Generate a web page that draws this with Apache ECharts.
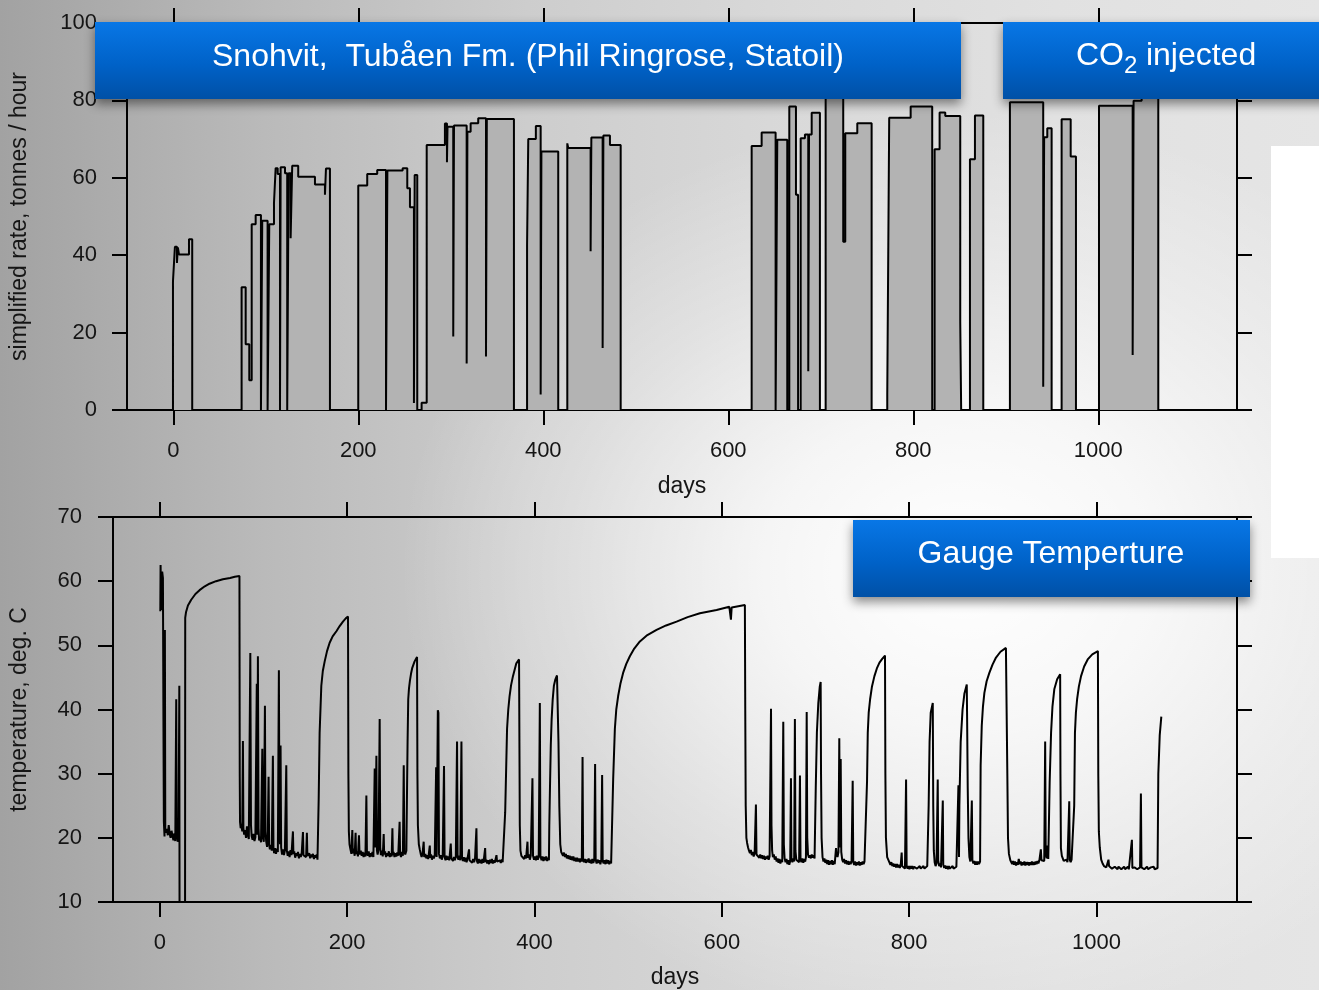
<!DOCTYPE html>
<html>
<head>
<meta charset="utf-8">
<title>Snohvit CO2 injection</title>
<script src="https://cdn.jsdelivr.net/npm/echarts@6/dist/echarts.min.js"></script>
<style>
  html, body { margin: 0; padding: 0; }
  body {
    width: 1319px; height: 990px; overflow: hidden;
    background:
      radial-gradient(ellipse 560px 460px at 960px 570px, rgba(255,255,255,1) 0%, rgba(255,255,255,0.75) 35%, rgba(255,255,255,0.3) 70%, rgba(255,255,255,0) 100%),
      linear-gradient(to right, #a2a2a2 0%, #bababa 20%, #cdcdcd 40%, #d9d9d9 60%, #e1e1e1 80%, #e5e5e5 100%);
  }
  #chart { width: 1319px; height: 990px; }
</style>
</head>
<body>
<div id="chart"></div>
<script>
// Tick values shared by both panels
const dayTicks = [0, 200, 400, 600, 800, 1000];
const rateTicks = [0, 20, 40, 60, 80, 100];
const tempTicks = [10, 20, 30, 40, 50, 60, 70];

// Simplified injection rate (tonnes/hour): [day, rate], each value held until the next day listed
const rateSteps = [
  [-50, 0],
  [-0.3, 33.2], [1.8, 42.2], [4, 38], [5, 42], [6.2, 40.2], [17, 44.1], [20.5, 0],
  [73.9, 31.7], [78.3, 17], [82.2, 7.7], [84.8, 48], [89.1, 50.4], [94.8, 0], [96.2, 48.9], [102, 0],
  [103.8, 48], [108.9, 53.5], [110.7, 62.5], [112.9, 61], [115.4, 0], [116.1, 62.7], [120.8, 61.2],
  [123.2, 0], [124.7, 61.2], [126.9, 44.4], [128.6, 63.1], [135.1, 60.3], [153.2, 58.3], [164, 55.6],
  [165.1, 62.4], [169.4, 0],
  [200, 58], [209.7, 61], [220.5, 62], [230, 0], [231.5, 61.9], [248, 62.5], [253, 57.3], [255.9, 52.4],
  [260.2, 1.8], [261, 60.7], [263.8, 0], [268.5, 1.9], [274, 68.5], [293.7, 74], [295.9, 64], [296.5, 73.2],
  [302.7, 19], [303.5, 73.5], [317.2, 12], [318, 71.9], [321.5, 74.1], [329.7, 75.4], [338.1, 13.8],
  [339, 75.2], [368.3, 0],
  [382.5, 42.6], [383.8, 70], [392, 73.4], [397.2, 4], [398, 66.8], [416.2, 0], [426, 68.9], [427, 67.7],
  [451.2, 41], [452, 70.4], [464.2, 16], [465, 70.9], [472.1, 68.5], [483.7, 0],
  [625.3, 68.2], [636.1, 71.7], [651.2, 0], [653, 69.8], [663.8, 0], [666, 78.4], [673.2, 55.6], [675.5, 0],
  [678.3, 70.2], [682.9, 71.2], [686.5, 10], [687.3, 71.2], [690.2, 76.8], [699.1, 0], [705.3, 85],
  [724.3, 43.5], [726.5, 71.5], [739.5, 74.1], [755, 0], [771.9, 3.9], [774, 75.5], [797.2, 78.4],
  [820.5, 0], [823.1, 67.4], [828.5, 76.9], [834.6, 76], [850.8, 22.8], [851.8, 0], [861.3, 64.8],
  [866.7, 76.1], [875.7, 0], [904.5, 79.5], [940.5, 6], [941.5, 70.5], [944.9, 72.8], [949.6, 0],
  [960.4, 75.1], [970.2, 65.5], [975.9, 0], [1000.8, 78.6], [1037.2, 14.2], [1038.2, 79.9], [1046.9, 84],
  [1064.9, 0],
  [1150, 0]
];

// Gauge temperature (deg. C): [day, temperature]
const gaugeTemp = [
  [0.5, 55.3], [0.8, 62.5], [1.5, 55.5], [2.5, 61.5], [3.3, 60.5], [3.8, 40], [4.3, 22.5], [5, 20.2],
  [5.4, 52.4], [5.8, 21.5], [6.5, 20.8], [7.5, 21.4], [8.5, 20.4], [9.5, 22], [10.5, 20.6], [11.5, 20],
  [12.5, 21.1], [13.5, 20.3], [14.5, 19.6], [15.5, 20.7], [16.5, 19.5], [17.5, 41.6], [18, 20.6],
  [19, 19.4], [20, 20.1], [20.8, 43.7], [21.1, 0], [26.9, 0], [27.1, 54.3], [28, 55.2], [30, 56.2],
  [33.5, 57.1], [38, 58], [42.4, 58.6], [48, 59.2], [53, 59.6], [60, 60], [67.3, 60.3], [75, 60.5],
  [80, 60.7], [85, 60.8],
  [85.3, 30], [85.6, 22.5], [86.3, 21.5], [87, 22], [88, 21], [88.7, 35.1], [89.2, 21.5], [90, 20.5],
  [91, 21.2], [92, 20], [93, 21.8], [94, 20.4], [95, 19.8], [96.6, 48.8], [97.3, 22], [98, 20.3],
  [99, 19.7], [100, 20.6], [101, 19.5], [102, 20.1], [103.5, 44], [104, 20.5], [104.7, 48.3],
  [105.4, 21.5], [106, 19.6], [107, 20.2], [108, 19.3], [109.4, 33.9], [110, 20], [111, 19.4],
  [112.2, 40.6], [112.8, 21], [113.5, 19.5], [114.5, 18.6], [115.2, 19.8], [116.1, 29.5], [116.7, 19],
  [117.5, 18.2], [118.5, 18.9], [119.5, 18], [120.7, 32.8], [121.3, 18.5], [122, 17.6], [123, 18.4],
  [124, 17.5], [125, 18.3], [126, 17.8], [127.1, 46.1], [127.7, 21], [128.3, 19], [128.9, 34.4],
  [129.5, 18.5], [130.5, 17.4], [131.5, 18.2], [132.5, 17.3], [133.5, 18], [135, 31.3], [135.6, 18],
  [136.5, 17.2], [137.5, 17.9], [138.5, 17], [139.5, 18.1], [140.5, 17.3], [142.1, 21], [142.6, 17.5],
  [143.5, 17.9], [144.5, 16.9], [145.5, 17.6], [146.5, 17.2], [147.5, 17.8], [148.5, 16.8], [149.5, 17.5],
  [150.5, 17], [151.5, 17.7], [152.8, 20.9], [153.3, 17.3], [154.3, 17], [155.3, 17.6], [156.2, 17],
  [157, 20.8], [157.5, 17.2], [158.5, 16.9], [159.5, 17.6], [160.5, 16.8], [161.5, 17.4], [162.5, 17],
  [163.5, 17.5], [164.5, 16.7], [165.5, 17.3], [166.5, 16.9], [167.5, 17.4], [168.3, 16.6], [168.8, 16.5],
  [169.6, 26.1], [170.6, 36.4], [172.4, 43.7], [174, 46], [176, 47.5], [178.5, 49.1], [181.3, 50.4],
  [184.5, 51.4], [188.5, 52.2], [192, 53], [195.5, 53.7], [198.5, 54.2], [200.9, 54.5],
  [201.3, 30], [201.8, 21], [202.5, 19], [203.5, 18.2], [204.5, 17.5], [205.5, 21.2], [206, 17.6],
  [207, 18.3], [208, 17.2], [209, 20.8], [209.5, 17.5], [210.5, 17.9], [211.5, 17.1], [212.6, 20.4],
  [213.2, 17.4], [214.5, 18], [215.5, 17.2], [216.5, 17.8], [217.5, 17], [218.5, 17.7], [219.5, 17.1],
  [220.5, 26.6], [221.1, 17.6], [222, 17.2], [223, 17.9], [224, 17], [225, 17.6], [226, 17.1], [227, 17.8],
  [228, 17], [229.4, 30.8], [230, 18.5], [231.2, 32.8], [231.8, 18], [232.5, 17.4], [233.5, 18.2],
  [234.7, 38.5], [235.3, 18.5], [236, 17.3], [237, 18], [238, 17.1], [239, 20.6], [239.5, 17.4],
  [240.5, 17.9], [241.5, 17], [242.5, 17.6], [243.5, 17.2], [244.5, 17.9], [245.5, 17], [246.5, 17.6],
  [247.5, 17.1], [248.3, 21.5], [248.8, 17.3], [249.5, 17.8], [250.5, 17], [251.5, 17.6], [252.5, 17.1],
  [253.5, 17.7], [254.5, 17.2], [256, 22.5], [256.5, 17.5], [257.5, 17], [258.5, 17.8], [259.5, 17.2],
  [260.4, 31.3], [261, 18], [262, 17.4], [263.2, 18],
  [263.8, 26], [264.5, 35], [265.2, 41.6], [266, 43.3], [267, 44.5], [268.2, 45.6], [269.5, 46.5],
  [272, 47.5], [274.6, 48.2],
  [275, 30], [275.5, 22], [276.5, 19], [277.5, 18.2], [278.5, 17.5], [279.5, 17], [280.5, 17.6],
  [281.7, 19.4], [282.2, 17], [283.5, 17.5], [284.5, 16.8], [285.5, 17.3], [286.5, 16.7], [288.2, 18.8],
  [288.7, 16.9], [289.5, 17.4], [290.5, 16.6], [291.5, 17.2], [292.5, 16.8], [293.5, 17.3], [295, 31],
  [295.5, 17], [296.8, 39.9], [297.4, 39.5], [298, 17.5], [299, 16.8], [300, 17.3], [301, 16.6],
  [302, 17.2], [303.4, 31.2], [304, 17], [305, 16.5], [306, 17.2], [307, 16.6], [308, 17.1], [309, 16.5],
  [310.6, 19.1], [311.2, 16.8], [312, 17.1], [313, 16.4], [314, 17], [315, 16.5], [316, 17.1], [317.3, 35],
  [317.9, 17], [318.8, 16.6], [319.8, 17.2], [320.8, 16.5], [322, 35], [322.6, 17], [323.5, 16.4],
  [324.5, 17], [325.5, 16.3], [326.5, 16.9], [327.5, 16.2], [328.5, 16.8], [330.1, 18.2], [330.6, 16.5],
  [331.5, 16.2], [332.5, 16.8], [333.5, 16.1], [334.5, 16.7], [335.5, 16.2], [336.5, 16.8], [338, 21.5],
  [338.5, 16.4], [339.5, 16], [340.5, 16.7], [341.5, 16.1], [342.5, 16.6], [343.5, 16], [344.5, 16.7],
  [345.5, 16.1], [347.3, 18.4], [347.8, 16.2], [348.5, 16.6], [349.5, 16], [350.5, 16.5], [351.5, 15.9],
  [352.5, 16.6], [353.5, 16.1], [354.5, 16.7], [355.5, 16], [356.5, 16.5], [357.5, 16.1], [358.5, 16.4],
  [359.4, 17.3], [360, 16.3], [361, 16.6], [362, 16], [363, 16.5], [364, 16.1], [365, 16.6], [366, 16.2],
  [367, 16.5], [368, 16.1],
  [368.7, 24], [369.5, 29.2], [370.7, 37], [372, 40], [373.4, 42.1], [375, 43.8], [377, 45.2],
  [380.6, 47.2], [383.5, 47.8],
  [383.9, 35], [384.3, 22], [385, 18], [386, 17.2], [387, 16.9], [388, 17.4], [389, 16.7], [390, 17.3],
  [391, 16.8], [392.5, 19.4], [393, 16.9], [394, 17.4], [395, 16.6], [396, 17.2], [397.8, 29.3],
  [398.4, 17.2], [399.5, 16.6], [400.5, 17.1], [401.5, 16.5], [402.5, 17.2], [403.5, 16.6], [404.5, 17],
  [405.7, 41], [406.3, 17.2], [407.5, 16.5], [408.5, 17.1], [409.5, 16.4], [410.5, 17], [411.5, 16.5],
  [412.5, 17.1], [413.5, 16.4], [414.5, 16.9], [415.4, 16.5],
  [415.8, 22], [416.7, 29.2], [417.4, 34.5], [418.3, 38.5], [419.4, 41.5], [420.7, 43.7], [422.3, 44.7],
  [424, 45.3], [425.2, 45.6],
  [425.6, 34.9], [426.5, 25], [427.5, 19], [428.5, 17.8], [429.5, 17.9], [430.5, 17.2], [431.5, 17.7],
  [432.5, 17], [433.5, 17.5], [434.5, 16.8], [435.5, 17.3], [436.5, 16.7], [437.5, 17.2], [438.5, 16.6],
  [439.5, 17.1], [440.5, 16.5], [441.5, 17.1], [442.5, 16.4], [443.5, 16.9], [444.5, 16.3], [445.5, 16.9],
  [446.5, 16.3], [447.5, 16.8], [448.5, 16.2], [449.5, 16.8], [450.5, 16.3], [451.3, 32.6], [451.9, 16.8],
  [452.8, 16.2], [453.8, 16.7], [454.8, 16.1], [455.8, 16.6], [456.8, 16.2], [457.8, 16.8], [458.8, 16.1],
  [459.8, 16.6], [460.8, 16], [461.8, 16.7], [462.8, 16.1], [463.8, 16.6], [464.7, 31.5], [465.3, 16.6],
  [466.3, 16], [467.3, 16.6], [468.3, 16.1], [469.3, 16.5], [470.3, 15.9], [471.3, 16.5], [472.2, 29.8],
  [472.8, 16.4], [473.8, 16], [474.8, 16.5], [475.8, 15.9], [476.8, 16.6], [477.8, 16], [478.8, 16.5],
  [479.8, 15.9], [480.8, 16.4], [481.8, 16], [482.8, 16.3], [483.3, 16],
  [484, 29.2], [485.8, 37], [487.3, 40], [489.3, 42.1], [491.7, 44], [494.6, 45.7], [498, 47.1],
  [501.8, 48.3], [506.5, 49.5], [512.5, 50.6], [520.5, 51.6], [530.3, 52.4], [540.5, 53.1], [551.7, 53.7],
  [563.5, 54.4], [576.6, 55], [594.4, 55.5], [608, 56], [609.7, 54], [610.5, 55.9], [624.6, 56.3],
  [625, 40], [625.5, 25], [626.2, 20], [627, 19.2], [628, 18.5], [629, 18], [630, 17.6], [631, 18.1],
  [632, 17.3], [633, 17.8], [634, 17.1], [635, 17.6], [636.4, 25.2], [637, 17.4], [638, 17.1], [639, 17.6],
  [640, 16.9], [641, 17.4], [642, 16.8], [643, 17.3], [644, 16.7], [645, 17.2], [646, 16.6], [647, 17.1],
  [648, 16.7], [649, 17.2], [650, 16.6], [651, 17.1], [652.5, 40.1], [653, 22], [653.7, 18], [654.5, 17],
  [655.5, 17.4], [656.5, 16.6], [657.5, 17.1], [658.5, 16.3], [659.5, 16.8], [660.5, 16.1], [661.5, 16.7],
  [662.5, 16], [663.5, 16.6], [664.5, 16.2], [665.6, 38.1], [666.2, 19], [667, 16.8], [668, 16.2],
  [669, 16.7], [670, 15.9], [671, 16.5], [672, 15.8], [673, 16.4], [673.8, 29.3], [674.3, 16.8],
  [675.3, 16.2], [676.3, 16.8], [677.2, 16.3], [678, 38.5], [678.6, 18], [679.5, 16.6], [680.5, 16.3],
  [681.5, 16.8], [682.5, 16.2], [683.4, 29.7], [684, 16.7], [685, 16.2], [686, 16.8], [687, 16.1],
  [688, 16.7], [689, 16.3], [689.8, 17], [690.6, 39.6], [691.2, 20], [692, 17.4], [693, 16.9], [694, 17.3],
  [695, 16.8], [696, 17.4], [697, 16.9], [698, 17.3], [699, 16.8],
  [699.5, 17], [700.3, 28], [701.5, 36.5], [703, 41], [704.5, 43.5], [705.5, 44.3],
  [705.9, 30], [706.5, 20], [707.5, 17], [708.5, 16.3], [709.5, 16.8], [710.5, 16.1], [711.5, 16.6],
  [712.5, 15.9], [713.5, 16.5], [714.5, 15.8], [715.5, 16.4], [716.5, 15.9], [717.5, 16.5], [718.5, 15.8],
  [719.5, 16.4], [720.5, 15.9], [721.9, 18.4], [722.5, 17.5], [723.5, 17], [724.5, 17.8], [725.4, 35.5],
  [726, 18.5], [726.9, 32.3], [727.5, 17.8], [728.5, 16.6], [729.5, 16.2], [730.5, 16.7], [731.5, 16],
  [732.5, 16.5], [733.5, 15.9], [734.5, 16.4], [735.5, 15.8], [736.5, 16.3], [737.5, 15.9], [738.5, 16.4],
  [739.7, 28.9], [740.3, 16.2], [741.3, 15.8], [742.3, 16.3], [743.3, 15.7], [744.3, 16.2], [745.3, 15.8],
  [746.3, 16.3], [747.3, 15.7], [748.3, 16.2], [749.3, 15.8], [750.3, 16.3], [751.3, 15.9], [752.3, 16.3],
  [753.3, 16], [754.4, 16.4],
  [755, 28.7], [755.8, 36.4], [756.8, 39.5], [758.3, 41.6], [760.3, 43.6], [762.9, 45.2], [765.5, 46.4],
  [768.3, 47.3], [771.2, 47.9], [774.2, 48.4],
  [774.6, 30], [775.2, 20], [776.5, 17], [778, 16.5], [779, 16.2], [780, 15.8], [781, 16.2], [782, 15.6],
  [783, 16], [784, 15.5], [785, 15.9], [786, 15.4], [787, 15.9], [788, 15.4], [789, 15.8], [790, 15.3],
  [791, 15.8], [792, 17.7], [792.5, 15.6], [793.5, 15.3], [794.5, 15.7], [795.5, 15.2], [796.7, 29.1],
  [797.3, 15.6], [798.3, 15.2], [799.3, 15.6], [800.3, 15.1], [801.3, 15.6], [802.3, 15.2], [803.3, 15.6],
  [804.3, 15.1], [805.3, 15.5], [806.3, 15.2], [807.3, 15.6], [808.3, 15.2], [809.3, 15.5], [810.3, 15.1],
  [811.3, 15.6], [812.3, 15.2], [813.3, 15.5], [814.3, 15.1], [815.3, 15.6], [816.3, 15.2], [817.3, 15.5],
  [818.3, 15.2], [819.3, 15.6], [820.3, 15.3],
  [820.8, 25], [821.8, 35], [823, 39.5], [825.2, 41], [825.7, 25], [826.3, 18], [827.2, 16.2],
  [828.2, 15.6], [829.2, 16], [830.5, 29.1], [831, 16.5], [832, 15.6], [833, 16], [834, 15.4],
  [835.9, 25.8], [836.4, 15.8], [837.4, 15.3], [838.4, 15.7], [839.4, 15.2], [840.4, 15.6], [841.4, 15.1],
  [842.4, 15.6], [843.4, 15.2], [844.4, 15.5], [845.4, 15.1], [846.4, 15.6], [847.4, 15.2], [848.4, 15.5],
  [849.4, 15.1], [850.4, 15.5], [851.4, 15.2], [852.6, 28.2], [853.2, 17],
  [853.6, 25], [855, 35], [857, 40], [859, 42.5], [861.5, 43.9],
  [861.9, 38], [862.5, 28], [863.3, 20], [864.3, 17], [865.3, 16.3], [866.9, 25.8], [867.5, 16.5],
  [868.5, 16], [869.5, 16.4], [870.5, 15.8], [871.5, 16.3], [872.5, 15.8], [873.5, 16.3], [874.5, 15.9],
  [875.7, 16.3],
  [876.3, 31.3], [877.5, 37.5], [878.8, 40.5], [880.3, 42.6], [882.7, 44.4], [885.6, 45.7], [889, 47],
  [892.7, 48.1], [897.5, 49], [903.3, 49.6], [904.3, 49.7],
  [904.8, 30], [905.5, 20], [906.5, 17.5], [908, 16.5], [909, 16.3], [910, 15.9], [911, 16.4], [912, 15.8],
  [913, 16.3], [914, 15.7], [915, 16.2], [916, 15.8], [917, 16.7], [918, 15.9], [919, 16.3], [920, 15.7],
  [921, 16.2], [922, 15.8], [923, 16.3], [924, 15.7], [925, 16.2], [926, 15.8], [927, 16.2], [928, 15.7],
  [929, 16.2], [930, 15.8], [931, 16.3], [932, 15.8], [933, 16.2], [934, 15.8], [935, 16.3], [936, 15.9],
  [937, 16.4], [938, 16], [939, 16.5], [940.6, 18.2], [941.2, 16.5], [942.2, 16.2], [943.2, 16.8],
  [944.2, 16.4], [945.2, 35], [945.8, 17.5], [946.8, 16.8], [947.8, 18.8], [948.5, 16.7], [949.3, 17],
  [950, 28.7], [951.5, 36.4], [953, 40.5], [955, 43.2], [958, 44.7], [961.2, 45.5],
  [961.5, 30], [962, 18.4], [963, 17.2], [964, 16.8], [965, 16.4], [966, 16.7], [967, 16.3], [968, 16.6],
  [969, 16.2], [970.2, 16.5], [970.9, 25.7], [971.4, 16.6], [972.4, 16.2], [973.4, 16.6], [974.4, 16.3],
  [975.5, 16.6],
  [976.2, 25], [977, 36.4], [978, 39.5], [979.3, 41.6], [981.2, 43.6], [983.5, 45.2], [986.8, 46.7],
  [990.6, 47.8], [995.5, 48.6], [1001.5, 49.1],
  [1001.9, 30], [1002.5, 21], [1003.5, 18.5], [1005, 16.6], [1006.5, 16], [1008, 15.6], [1009.5, 15.7],
  [1010.5, 15.4], [1011.5, 15.7], [1012.8, 16.6], [1013.4, 15.6], [1014.5, 15.3], [1015.5, 15.6],
  [1016.5, 15.2], [1017.5, 15.5], [1018.5, 15.1], [1019.5, 15.5], [1020.5, 15.2], [1021.5, 15.5],
  [1022.5, 15.1], [1023.5, 15.5], [1024.5, 15.2], [1025.5, 15.5], [1026.5, 15.1], [1027.5, 15.4],
  [1028.5, 15.2], [1029.5, 15.5], [1030.5, 15.1], [1031.5, 15.4], [1032.5, 15.2], [1033.5, 15.5],
  [1034.5, 15.1], [1035.5, 15.4], [1036.5, 15.2], [1037.8, 19.7], [1038.3, 15.3], [1039.5, 15.1],
  [1040.5, 15.4], [1041.5, 15.2], [1042.5, 15.5], [1043.5, 15.1], [1044.5, 15.4], [1045.5, 15.2],
  [1046.5, 15.4], [1047.4, 26.9], [1048, 15.4], [1049, 15.1], [1050, 15.4], [1051, 15.1], [1052, 15.4],
  [1053, 15.2], [1054, 15.5], [1055, 15.1], [1056, 15.4], [1057, 15.2], [1058, 15.4], [1059, 15.1],
  [1060, 15.3], [1061, 15.5], [1062, 15.1], [1063, 15.4], [1064, 15.2], [1065.2, 15.3],
  [1066, 30], [1067.5, 36], [1069.2, 38.9]
];

const FONT = '"Liberation Sans", Arial, Helvetica, sans-serif';
const INK = '#151515';
const plainNumber = v => String(v);

const chart = echarts.init(document.getElementById('chart'), null, { renderer: 'canvas' });

const tickStyle = ticks => ({
  show: true, inside: false, length: 15, customValues: ticks,
  lineStyle: { color: '#000', width: 2 }
});

function bottomDaysAxis(gridIndex, nameGap, margin) {
  return {
    gridIndex, type: 'value', min: -50, max: 1150, position: 'bottom',
    name: 'days', nameLocation: 'middle', nameGap,
    nameTextStyle: { fontSize: 23, color: INK, fontFamily: FONT },
    axisLine: { show: true, onZero: false, lineStyle: { color: '#000', width: 2 } },
    axisTick: tickStyle(dayTicks),
    axisLabel: { show: true, customValues: dayTicks, formatter: plainNumber, fontSize: 22, color: INK, fontFamily: FONT, margin },
    splitLine: { show: false }
  };
}
function topDaysAxis(gridIndex) {
  return {
    gridIndex, type: 'value', min: -50, max: 1150, position: 'top',
    axisLine: { show: false, onZero: false },
    axisTick: tickStyle(dayTicks),
    axisLabel: { show: false },
    splitLine: { show: false }
  };
}
function leftValueAxis(gridIndex, min, max, ticks, name, nameGap, margin) {
  return {
    gridIndex, type: 'value', min, max, position: 'left',
    name, nameLocation: 'middle', nameGap,
    nameTextStyle: { fontSize: 23, color: INK, fontFamily: FONT },
    axisLine: { show: true, onZero: false, lineStyle: { color: '#000', width: 2 } },
    axisTick: tickStyle(ticks),
    axisLabel: { show: true, customValues: ticks, formatter: plainNumber, fontSize: 22, color: INK, fontFamily: FONT, margin },
    splitLine: { show: false }
  };
}
function rightValueAxis(gridIndex, min, max, ticks) {
  return {
    gridIndex, type: 'value', min, max, position: 'right',
    axisLine: { show: false, onZero: false },
    axisTick: tickStyle(ticks),
    axisLabel: { show: false },
    splitLine: { show: false }
  };
}

const bannerFill = {
  type: 'linear', x: 0, y: 0, x2: 0, y2: 1,
  colorStops: [
    { offset: 0, color: '#0877e6' },
    { offset: 0.55, color: '#0062c8' },
    { offset: 1, color: '#0050a6' }
  ]
};
const bannerShadow = { shadowBlur: 10, shadowOffsetY: 5, shadowColor: 'rgba(0,0,0,0.45)' };

function banner(x, y, w, h) {
  return {
    type: 'rect', z: 100, silent: true,
    shape: { x, y, width: w, height: h },
    style: Object.assign({ fill: bannerFill }, bannerShadow)
  };
}
function bannerText(x, y, text, size, align) {
  return {
    type: 'text', z: 101, silent: true, x, y,
    style: { text, fill: '#ffffff', font: size + 'px ' + FONT, textAlign: align || 'left', textVerticalAlign: 'middle' }
  };
}

const option = {
  animation: false,
  textStyle: { fontFamily: FONT },
  grid: [
    { left: 127, top: 23, width: 1110, height: 387, show: true, borderColor: '#000', borderWidth: 2, backgroundColor: 'transparent' },
    { left: 113, top: 517, width: 1124, height: 387, show: true, borderColor: '#000', borderWidth: 2, backgroundColor: 'transparent' }
  ],
  xAxis: [
    bottomDaysAxis(0, 65, 30),
    topDaysAxis(0),
    bottomDaysAxis(1, 64, 30),
    topDaysAxis(1)
  ],
  yAxis: [
    leftValueAxis(0, 0, 100, rateTicks, 'simplified rate, tonnes / hour', 96, 30),
    rightValueAxis(0, 0, 100, rateTicks),
    leftValueAxis(1, 10, 70, tempTicks, 'temperature, deg. C', 82, 31),
    rightValueAxis(1, 10, 70, tempTicks)
  ],
  series: [
    {
      name: 'rate', type: 'line', xAxisIndex: 0, yAxisIndex: 0,
      data: rateSteps, step: 'end', showSymbol: false, symbol: 'none',
      lineStyle: { color: '#000', width: 2 },
      areaStyle: { color: '#b3b3b3', opacity: 1 },
      clip: true, z: 2
    },
    {
      name: 'temperature', type: 'line', xAxisIndex: 2, yAxisIndex: 2,
      data: gaugeTemp, showSymbol: false, symbol: 'none',
      lineStyle: { color: '#000', width: 2 },
      clip: true, z: 2
    }
  ],
  graphic: [
    { type: 'rect', z: 1, silent: true, shape: { x: 1271, y: 146, width: 48, height: 412 }, style: { fill: '#ffffff' } },
    banner(95, 22, 866, 77),
    bannerText(528, 57, 'Snohvit,  Tubåen Fm. (Phil Ringrose, Statoil)', 32, 'center'),
    banner(1003, 22, 330, 77),
    bannerText(1076, 56, 'CO', 32),
    bannerText(1124, 66, '2', 24),
    bannerText(1137, 56, ' injected', 32),
    banner(853, 520, 397, 77),
    bannerText(1051, 554, 'Gauge Temperture', 32, 'center')
  ]
};

chart.setOption(option);
</script>
</body>
</html>
